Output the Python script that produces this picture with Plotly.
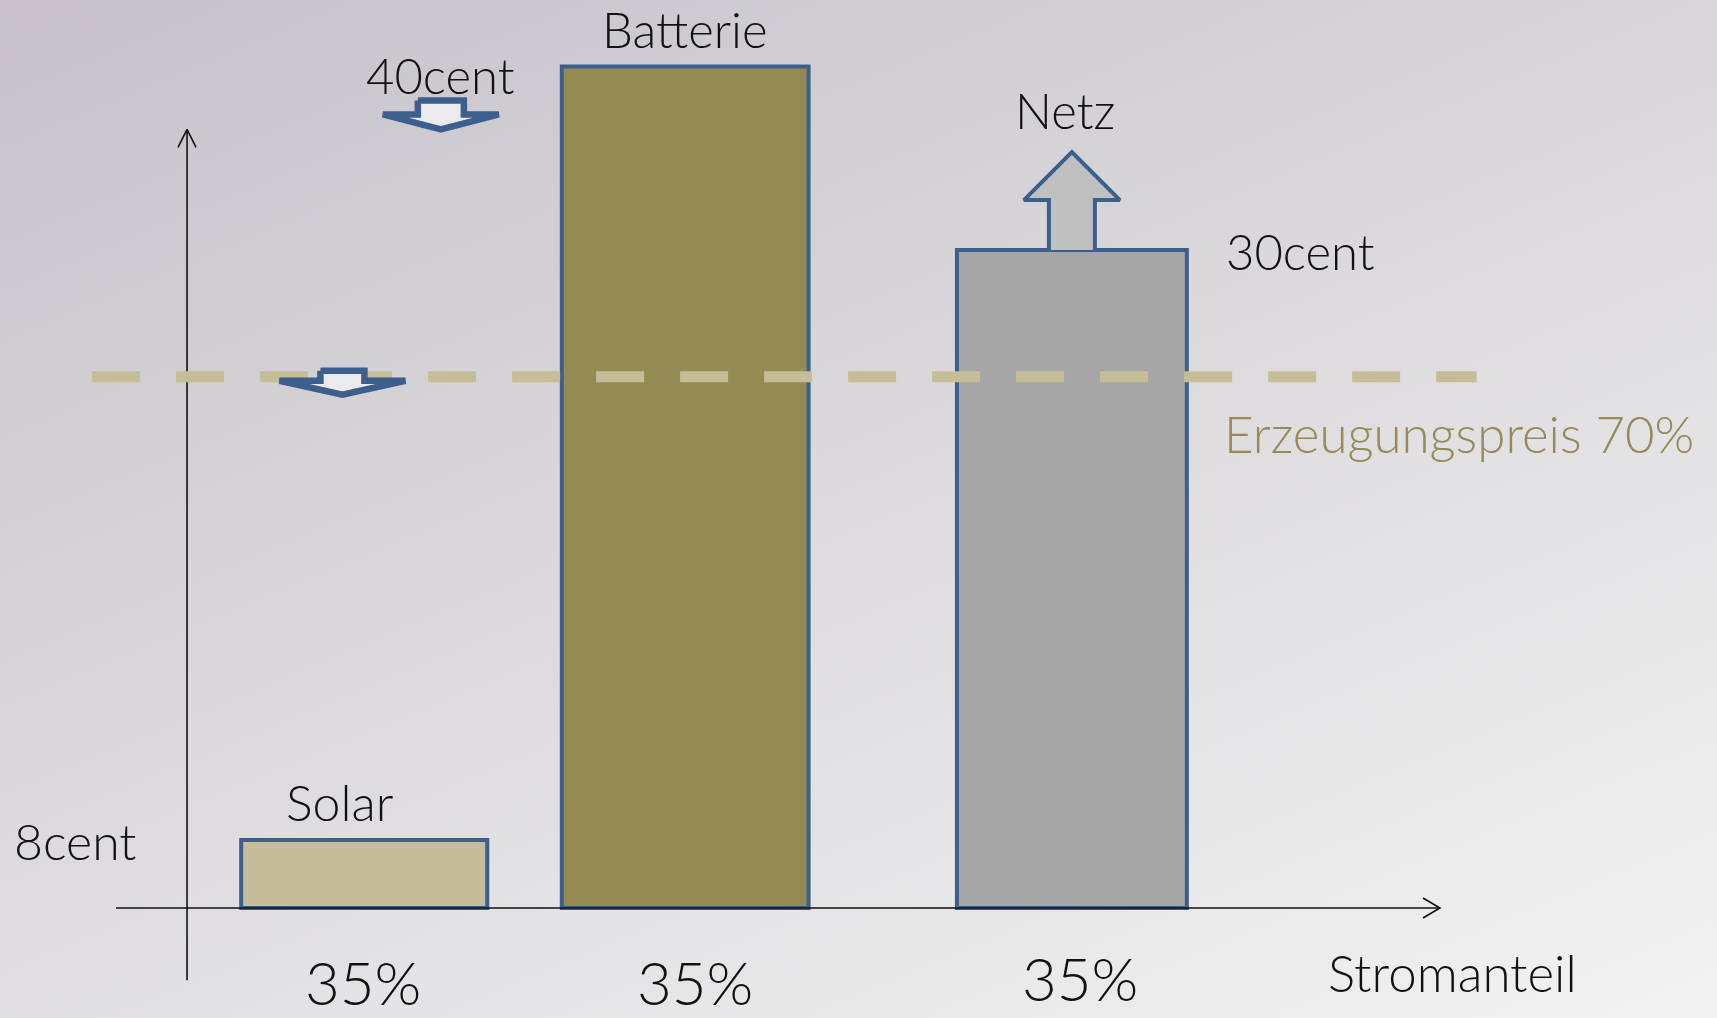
import base64
import plotly.graph_objects as go

# ---------------- data (schematic units) ----------------
sources = ["Solar", "Batterie", "Netz"]
price_labels = ["8cent", "40cent", "30cent"]
bar_heights = [8, 99, 77.4]          # schematic bar heights (price axis units)
bar_left = [7.7, 53.3, 109.5]        # left edge on the Stromanteil axis
bar_width = [35.0, 35.1, 32.7]       # share width
share_labels = ["35%", "35%", "35%"]
bar_colors = ["#c5bd98", "#948a54", "#a6a6a6"]
erzeugung_level = 62.5
erzeugung_label = "Erzeugungspreis 70%"
x_axis_label = "Stromanteil"
x_axis_span = [-10.1, 178.2]
y_axis_span = [-8.5, 91.6]
x_range = [-26.6, 217.6]
y_range = [-12.94, 106.82]

W, H = 1717, 1018
PXX = W / (x_range[1] - x_range[0])   # px per x unit
PXY = H / (y_range[1] - y_range[0])   # px per y unit


def dx(px):
    return px / PXX


def dy(px):
    return px / PXY


BLUE = "#3c5f8e"
FONT = "Lato"

fig = go.Figure()

# bars
centers = [l + w / 2 for l, w in zip(bar_left, bar_width)]
fig.add_trace(go.Bar(
    x=centers, y=bar_heights, width=bar_width, base=0,
    marker=dict(color=bar_colors, line=dict(color=BLUE, width=4)),
    hoverinfo="skip", showlegend=False,
))

# axes (with open chevron heads)
fig.add_trace(go.Scatter(x=[x_axis_span[0], x_axis_span[1]], y=[0, 0], mode="lines",
                         line=dict(color="#111111", width=1.6), showlegend=False, hoverinfo="skip"))
fig.add_trace(go.Scatter(x=[x_axis_span[1] - dx(17), x_axis_span[1], x_axis_span[1] - dx(17)],
                         y=[dy(10), 0, -dy(10)], mode="lines",
                         line=dict(color="#111111", width=1.6), showlegend=False, hoverinfo="skip"))
fig.add_trace(go.Scatter(x=[0, 0], y=[y_axis_span[0], y_axis_span[1]], mode="lines",
                         line=dict(color="#111111", width=1.6), showlegend=False, hoverinfo="skip"))
fig.add_trace(go.Scatter(x=[-dx(9), 0, dx(9)],
                         y=[y_axis_span[1] - dy(18), y_axis_span[1], y_axis_span[1] - dy(18)], mode="lines",
                         line=dict(color="#111111", width=1.6), showlegend=False, hoverinfo="skip"))

# dashed production-price line
fig.add_trace(go.Scatter(x=[-13.5, 183.4], y=[erzeugung_level, erzeugung_level], mode="lines",
                         line=dict(color="#c5bd98", width=11, dash="48px,36px"),
                         showlegend=False, hoverinfo="skip"))


def block_arrow(cx, ytop, shaft_hw, shaft_h, head_hw, total_h, direction, fill, lw):
    """Block arrow anchored at (cx, ytop) in data units, sizes in px."""
    s = -1 if direction == "down" else 1
    xs = [cx - dx(shaft_hw), cx + dx(shaft_hw), cx + dx(shaft_hw), cx + dx(head_hw), cx,
          cx - dx(head_hw), cx - dx(shaft_hw), cx - dx(shaft_hw)]
    ys = [ytop, ytop, ytop + s * dy(shaft_h), ytop + s * dy(shaft_h), ytop + s * dy(total_h),
          ytop + s * dy(shaft_h), ytop + s * dy(shaft_h), ytop]
    fig.add_trace(go.Scatter(x=xs, y=ys, mode="lines", fill="toself", fillcolor=fill,
                             line=dict(color=BLUE, width=lw),
                             showlegend=False, hoverinfo="skip"))


# arrow under "40cent"
a1x = 36.1
a1y = bar_heights[1] - dy(34)
block_arrow(a1x, a1y, 23, 14, 58, 29, "down", "#ebebed", 6.5)
# arrow on the production-price line
block_arrow(22.1, erzeugung_level + dy(6), 22, 10, 63, 24, "down", "#ebebed", 6.5)
# up arrow on top of Netz
nx = centers[2]
ny = bar_heights[2]
xs = [nx - dx(23), nx - dx(23), nx - dx(48), nx, nx + dx(48), nx + dx(23), nx + dx(23)]
ys = [ny, ny + dy(50), ny + dy(50), ny + dy(98), ny + dy(50), ny + dy(50), ny]
fig.add_trace(go.Scatter(x=xs, y=ys, mode="lines", fill="toself", fillcolor="#c0c0c0",
                         line=dict(color=BLUE, width=4),
                         showlegend=False, hoverinfo="skip"))

ann = []


def txt(x, y, s, size, color="#111111", xanchor="center"):
    ann.append(dict(x=x, y=y, xref="x", yref="y", text=s, showarrow=False,
                    xanchor=xanchor, yanchor="middle",
                    font=dict(family=FONT, size=size, color=color, weight=300)))


# source names
txt(centers[1], bar_heights[1] + dy(37), sources[1], 49)
txt(centers[2] - dx(7), bar_heights[2] + dy(140), sources[2], 49)
txt(centers[0] - dx(24), bar_heights[0] + dy(38), sources[0], 50)
# prices
txt(a1x, bar_heights[1] - dy(9), price_labels[1], 49)
txt(centers[2] + dx(229), bar_heights[2] - dy(1), price_labels[2], 49)
txt(-16.0, bar_heights[0] - dy(1), price_labels[0], 50)
# production-price label
txt(147.2, erzeugung_level - dy(57), erzeugung_label, 51, color="#958b56", xanchor="left")
# shares
share_off = [dy(-74), dy(-74), dy(-70)]
share_dx = [dx(-1), dx(10), dx(8)]
for c, s, o, d in zip(centers, share_labels, share_off, share_dx):
    txt(c + d, o, s, 60)
txt(180.0, -dy(64), x_axis_label, 51)

# background gradient
svg = (
    f"<svg xmlns='http://www.w3.org/2000/svg' width='{W}' height='{H}' viewBox='0 0 {W} {H}'>"
    "<defs><linearGradient id='g' gradientUnits='userSpaceOnUse' x1='0' y1='0' x2='633' y2='1523'>"
    "<stop offset='0' stop-color='#c6c2c8'/><stop offset='1' stop-color='#f4f4f4'/>"
    "</linearGradient></defs>"
    f"<rect x='0' y='0' width='{W}' height='{H}' fill='url(#g)'/></svg>"
)
bg = "data:image/svg+xml;base64," + base64.b64encode(svg.encode()).decode()

fig.update_layout(
    width=W, height=H,
    margin=dict(l=0, r=0, t=0, b=0),
    paper_bgcolor="#e6e5e8", plot_bgcolor="rgba(0,0,0,0)",
    xaxis=dict(range=x_range, visible=False, fixedrange=True),
    yaxis=dict(range=y_range, visible=False, fixedrange=True),
    annotations=ann,
    images=[dict(source=bg, xref="paper", yref="paper", x=0, y=1, sizex=1, sizey=1,
                 sizing="stretch", layer="below", xanchor="left", yanchor="top")],
    showlegend=False,
)

fig.write_html("out.html")
